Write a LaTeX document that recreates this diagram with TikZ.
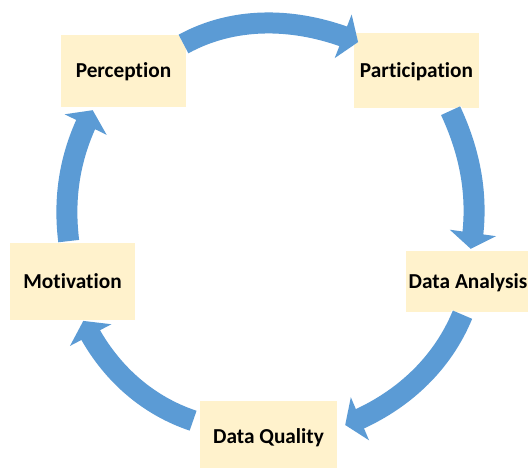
\documentclass[tikz,border=0pt]{standalone}
\usepackage{fontspec}
\setmainfont{Carlito}[Ligatures=CommonOff]
\usetikzlibrary{arrows.meta,bending}

\definecolor{boxfill}{HTML}{FFF2CC}
\definecolor{cycblue}{HTML}{5B9BD5}

\begin{document}
\begin{tikzpicture}[x=1pt,y=1pt,
    box/.style={fill=boxfill, inner sep=0pt, text height=14pt, text depth=0pt,
        font=\fontsize{21.3}{25}\selectfont\bfseries},
    cyc/.style={draw=cycblue, line width=21pt, looseness=0.9,
        -{Triangle[width=46pt,length=16pt,flex]},
        preaction={draw=white, line width=23pt, -{Triangle[width=49pt,length=17pt,flex]}}}]
    \useasboundingbox (0,0) rectangle (528,-468);

    % Boxes
    \node[box, minimum width=125pt, minimum height=72pt] (per) at (123.5,-71) {Perception};
    \node[box, minimum width=125pt, minimum height=75pt] (par) at (416.5,-70.8) {Participation};
    \node[box, minimum width=124pt, minimum height=61pt] (ana) at (468,-281.5) {Data Analysis};
    \node[box, minimum width=137pt, minimum height=71pt] (qua) at (268.5,-436.3) {Data Quality};
    \node[box, minimum width=125pt, minimum height=77pt] (mot) at (72.5,-281.5) {Motivation};

    % Cycle arrows
    \draw[cyc] ([shift={(-3.8,1.7)}]mot.north) to[out=97,in=242] ([shift={(-30.8,-3)}]per.south);
    \draw[cyc] ([shift={(-2.7,-9.2)}]per.north east) to[out=28.7,in=157] ([shift={(4.3,-9)}]par.north west);
    \draw[cyc] ([shift={(-28.6,-2.2)}]par.south east) to[out=-65,in=80] ([shift={(2.7,2)}]ana.north);
    \draw[cyc] ([shift={(-5.5,-2.5)}]ana.south) to[out=-112.4,in=21] ([shift={(8,11.3)}]qua.east);
    \draw[cyc] ([shift={(-6.7,15.6)}]qua.west) to[out=161.5,in=295.5] ([shift={(10.8,-0.7)}]mot.south);
\end{tikzpicture}
\end{document}
